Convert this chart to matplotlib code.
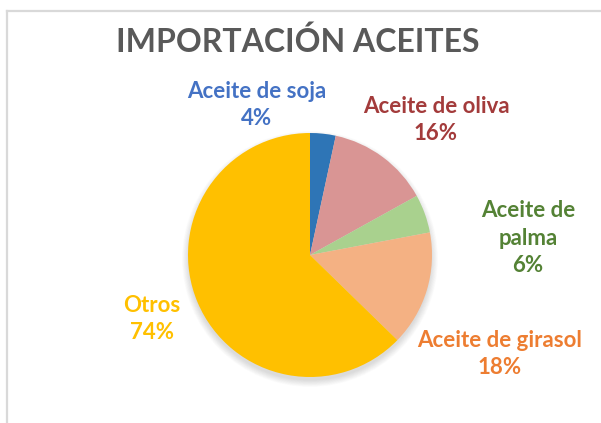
import matplotlib
matplotlib.use("Agg")
import matplotlib.pyplot as plt
from matplotlib.patches import Circle

# Data
categories = ["Aceite de soja", "Aceite de oliva", "Aceite de palma", "Aceite de girasol", "Otros"]
values = [4, 16, 6, 18, 74]
slice_colors = ["#2E75B6", "#D99594", "#A9D18E", "#F4B183", "#FFC000"]
label_colors = ["#4472C4", "#A33B3B", "#548235", "#ED7D31", "#FFC000"]
label_texts = ["Aceite de soja", "Aceite de oliva", "Aceite de\npalma", "Aceite de girasol", "Otros"]
title = "IMPORTACIÓN ACEITES"

W, H = 601, 423
fig = plt.figure(figsize=(W / 100, H / 100), dpi=100)
ax = fig.add_axes([0, 0, 1, 1])

cx, cy, r = 310, H - 255, 122

# soft shadow under the pie
for i in range(12):
    ax.add_patch(Circle((cx, cy - 4), r + 6 - i * 0.6, color="black",
                        alpha=0.012, lw=0, zorder=1))

ax.pie(values, colors=slice_colors, startangle=90, counterclock=False,
       radius=r, center=(cx, cy), frame=True,
       wedgeprops=dict(linewidth=0, zorder=2))
ax.set_xlim(0, W)
ax.set_ylim(0, H)
ax.set_aspect("equal")
ax.axis("off")

font = "Lato"
label_pos = [(257, 105), (436, 120), (528, 238), (500, 354), (152, 319)]
for txt, v, col, (x, y) in zip(label_texts, values, label_colors, label_pos):
    ax.text(x, H - y, f"{txt}\n{v}%", color=col, fontsize=16, fontweight="bold",
            family=font, ha="center", va="center", linespacing=1.38, zorder=5)

ax.text(298, H - 42, title, color="#595959", fontsize=23, fontweight="bold",
        family=font, ha="center", va="center", zorder=5)

# chart frame edges
fig.add_artist(plt.Line2D([6.5 / W, 1], [1 - 11.5 / H, 1 - 11.5 / H],
                          color="#D9D9D9", lw=1.6, transform=fig.transFigure))
fig.add_artist(plt.Line2D([6.5 / W, 6.5 / W], [0, 1 - 11.5 / H],
                          color="#D9D9D9", lw=1.6, transform=fig.transFigure))

fig.savefig("out.png", dpi=100, facecolor="white")
